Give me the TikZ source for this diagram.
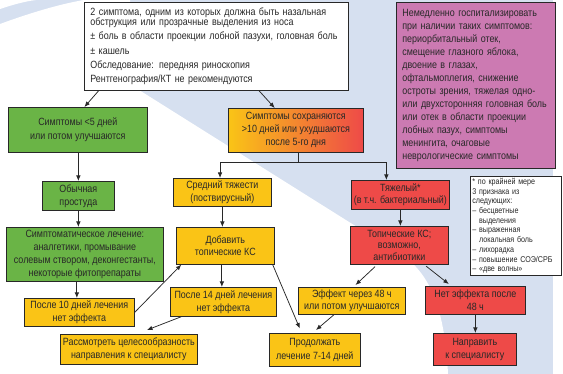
\documentclass[tikz,border=0pt]{standalone}
\usepackage{fontspec}
\setmainfont[FakeStretch=0.85]{Liberation Sans}
\usetikzlibrary{arrows.meta,calc}
\definecolor{bgblue}{RGB}{214,224,240}
\definecolor{gbox}{RGB}{106,180,70}
\definecolor{ybox}{RGB}{250,196,22}
\definecolor{obox}{RGB}{245,145,45}
\definecolor{rbox}{RGB}{238,74,72}
\definecolor{mbox}{RGB}{204,122,178}
\definecolor{txt}{RGB}{40,40,40}
\definecolor{edge}{RGB}{40,40,40}
\begin{document}
\begin{tikzpicture}[x=1pt,y=-1pt,
  box/.style={draw=edge, line width=0.7pt, inner sep=0pt, text=txt, align=center,
    anchor=north west, font=\fontsize{10.5}{12.6}\selectfont},
  arr/.style={draw=edge, line width=0.75pt, -{Latex[length=5.5pt,width=4.5pt]}},
  ln/.style={draw=edge, line width=0.75pt}]
\useasboundingbox (0,0) rectangle (563,374);
% background
\fill[white] (0,0) rectangle (563,374);
\fill[bgblue] (0,0) rectangle (553,374);
\fill[white] (0,0) -- (0,9) .. controls (12,5) and (24,1.5) .. (36,0) -- cycle;
\fill[white] (0,374) -- (0,24) .. controls (30,13) and (60,4) .. (84,0) -- (130,0) -- (139,90)
  -- (400,254) .. controls (430,272) and (445,310) .. (448,374) -- cycle;

% nodes
\node[box, fill=white, minimum width=264pt, minimum height=88pt, text width=252pt,
  inner xsep=6pt, align=left, font=\fontsize{10.5}{10}\selectfont] (top) at (84,2)
  {2 симптома, одним из которых должна быть назальная\\
   обструкция или прозрачные выделения из носа\\[4pt]
   ± боль в области проекции лобной пазухи, головная боль\\[4.5pt]
   ± кашель\\[4.5pt]
   Обследование: передняя риноскопия\\[4pt]
   Рентгенография/КТ не рекомендуются};

\node[box, fill=mbox, minimum width=159pt, minimum height=166pt, text width=147pt,
  inner xsep=6pt, align=left, font=\fontsize{10.5}{13}\selectfont] (mag) at (396,2)
  {Немедленно госпитализировать\\ при наличии таких симптомов:\\ периорбитальный отек,\\
   смещение глазного яблока,\\ двоение в глазах,\\ офтальмоплегия, снижение\\
   остроты зрения, тяжелая одно-\\ или двухсторонняя головная боль\\
   или отек в области проекции\\ лобных пазух, симптомы\\ менингита, очаговые\\
   неврологические симптомы};

\node[box, fill=white, minimum width=91pt, minimum height=99pt, text width=87pt,
  inner xsep=2pt, align=left, font=\fontsize{8.4}{9.7}\selectfont] (note) at (470,176)
  {* по крайней мере\\ 3 признака из\\ следующих:\\ – бесцветные\\ \hphantom{– }выделения\\
   – выраженная\\ \hphantom{– }локальная боль\\ – лихорадка\\ – повышение СОЭ/СРБ\\ – «две волны»};

\node[box, fill=gbox, minimum width=139pt, minimum height=45pt,
  font=\fontsize{10.5}{13.4}\selectfont] (g1) at (8,107)
  {Симптомы <5 дней\\ или потом улучшаются};
\node[box, left color=ybox, middle color=obox, right color=rbox, minimum width=135pt, minimum height=44pt,
  font=\fontsize{10.5}{13}\selectfont] (orng) at (228,108)
  {Симптомы сохраняются\\ >10 дней или ухудшаются\\ после 5-го дня};
\node[box, fill=gbox, minimum width=72pt, minimum height=29pt,
  font=\fontsize{10.5}{13}\selectfont] (cold) at (42,181) {Обычная\\ простуда};
\node[box, fill=ybox, minimum width=98pt, minimum height=28pt] (mid) at (173,178)
  {Средний тяжести\\ (поствирусный)};
\node[box, fill=rbox, minimum width=98pt, minimum height=29pt] (sev) at (351,180)
  {Тяжелый*\\ (в т.ч. бактериальный)};
\node[box, fill=gbox, minimum width=157pt, minimum height=54pt,
  font=\fontsize{10.5}{13}\selectfont] (g3) at (6,227)
  {Симптоматическое лечение:\\ аналгетики, промывание\\ солевым створом, деконгестанты,\\ некоторые фитопрепараты};
\node[box, fill=ybox, minimum width=98pt, minimum height=37pt,
  font=\fontsize{10.5}{11.7}\selectfont] (add) at (176,227) {Добавить\\ топические КС};
\node[box, fill=rbox, minimum width=98pt, minimum height=38pt,
  font=\fontsize{10.5}{11.2}\selectfont] (topab) at (350,226)
  {Топические КС;\\ возможно,\\ антибиотики};
\node[box, fill=ybox, minimum width=110pt, minimum height=28pt] (a10) at (24,298)
  {После 10 дней лечения\\ нет эффекта};
\node[box, fill=ybox, minimum width=106pt, minimum height=29pt,
  font=\fontsize{10.5}{13}\selectfont] (a14) at (170,287)
  {После 14 дней лечения\\ нет эффекта};
\node[box, fill=ybox, minimum width=107pt, minimum height=27pt] (eff) at (298,287)
  {Эффект через 48 ч\\ или потом улучшаются};
\node[box, fill=rbox, minimum width=100pt, minimum height=28pt] (noeff) at (425,286)
  {Нет эффекта после\\ 48 ч};
\node[box, fill=ybox, minimum width=137pt, minimum height=30pt,
  font=\fontsize{10.5}{13.4}\selectfont] (cons) at (60,334)
  {Рассмотреть целесообразность\\ направления к специалисту};
\node[box, fill=ybox, minimum width=91pt, minimum height=33pt,
  font=\fontsize{10.5}{13.4}\selectfont] (cont) at (269,333)
  {Продолжать\\ лечение 7-14 дней};
\node[box, fill=rbox, minimum width=83pt, minimum height=32pt,
  font=\fontsize{10.5}{13.4}\selectfont] (refer) at (433,333)
  {Направить\\ к специалисту};

% connectors
\draw[arr] ([xshift=14.7pt]top.south west) -- ([xshift=76.4pt]g1.north west);
\draw[arr] ([xshift=175pt]top.south west) -- ([xshift=46.7pt]orng.north west);
\draw[arr] (cold.north |- g1.south) -- (cold.north);
\draw[arr] (cold.south) -- (cold.south |- g3.north);
\draw[arr] ([xshift=-2.5pt]a10.north |- g3.south) -- ([xshift=-2.5pt]a10.north);
\coordinate (split) at ($([xshift=2.5pt]orng.south)+(0,9.7)$);
\draw[ln] ([xshift=2.5pt]orng.south) -- (split);
\draw[arr] (split) -| ([xshift=-2.3pt]mid.north);
\draw[arr] (split) -| ([xshift=-14pt]sev.north);
\draw[arr] (mid.south) -- (mid.south |- add.north);
\draw[arr] ([xshift=-3.5pt]add.south) -- ([xshift=-3.5pt]add.south |- a14.north);
\draw[arr] (a10.east) -- ([xshift=5.3pt]add.south west);
\draw[arr] ([xshift=11.3pt]a14.south west) -- ([xshift=87pt,yshift=4pt]cons.north west);
\draw[arr] ([xshift=-2pt]add.south east) -- ([xshift=30.8pt,yshift=4.5pt]cont.north west);
\draw[arr] ([xshift=36pt]eff.south west) -- ([xshift=47pt,yshift=3pt]cont.north west);
\draw[arr] (sev.south) -- (sev.south |- topab.north);
\draw[arr] ([xshift=25pt,yshift=-2pt]topab.south west) -- ([xshift=57.5pt,yshift=2pt]eff.north west);
\draw[arr] ([xshift=-22.5pt,yshift=-1.5pt]topab.south east) -- ([xshift=23.8pt,yshift=2pt]noeff.north west);
\draw[arr] (noeff.south) -- (noeff.south |- refer.north);
\end{tikzpicture}
\end{document}
